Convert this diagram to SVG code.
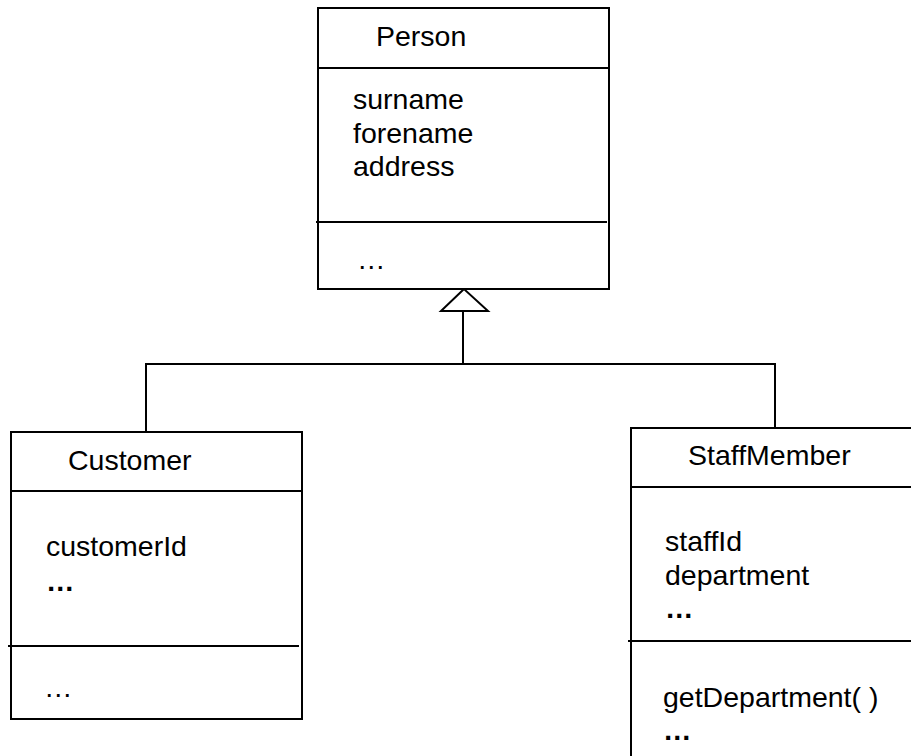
<svg xmlns="http://www.w3.org/2000/svg" width="911" height="756" viewBox="0 0 911 756">
<style>
.box{fill:#fff;stroke:#000;stroke-width:2}
.ln{stroke:#000;stroke-width:2;fill:none}
.t{font-family:"Liberation Sans",Arial,sans-serif;font-size:28.5px;fill:#000}
.b{font-weight:bold}
</style>
<rect width="911" height="756" fill="#fff"/>
<g id="connectors">
<polyline class="ln" points="146,432 146,364 775,364 775,428"/>
<line class="ln" x1="463" y1="364" x2="463" y2="311"/>
<polygon class="ln" points="464,289 441,311 488,311" fill="#fff"/>
</g>
<g id="person">
<rect class="box" x="318" y="8" width="291" height="281"/>
<line class="ln" x1="318" y1="68" x2="609" y2="68"/>
<line class="ln" x1="316" y1="222" x2="607" y2="222"/>
<text class="t" x="376" y="46">Person</text>
<text class="t" x="353" y="109">surname</text>
<text class="t" x="353" y="143">forename</text>
<text class="t" x="353" y="176">address</text>
<text class="t" x="357" y="269">…</text>
</g>
<g id="customer">
<rect class="box" x="11" y="432" width="291" height="287"/>
<line class="ln" x1="11" y1="491" x2="302" y2="491"/>
<line class="ln" x1="8" y1="646" x2="299" y2="646"/>
<text class="t" x="68" y="470">Customer</text>
<text class="t" x="46" y="556">customerId</text>
<text class="t b" x="46" y="591">…</text>
<text class="t" x="44" y="697">…</text>
</g>
<g id="staffmember">
<rect class="box" x="631" y="428" width="300" height="340"/>
<line class="ln" x1="631" y1="487" x2="911" y2="487"/>
<line class="ln" x1="628" y1="641" x2="911" y2="641"/>
<text class="t" x="688" y="465">StaffMember</text>
<text class="t" x="665" y="551">staffId</text>
<text class="t" x="665" y="585">department</text>
<text class="t b" x="665" y="618">…</text>
<text class="t" x="663" y="707">getDepartment( )</text>
<text class="t b" x="663" y="740">…</text>
</g>
</svg>
